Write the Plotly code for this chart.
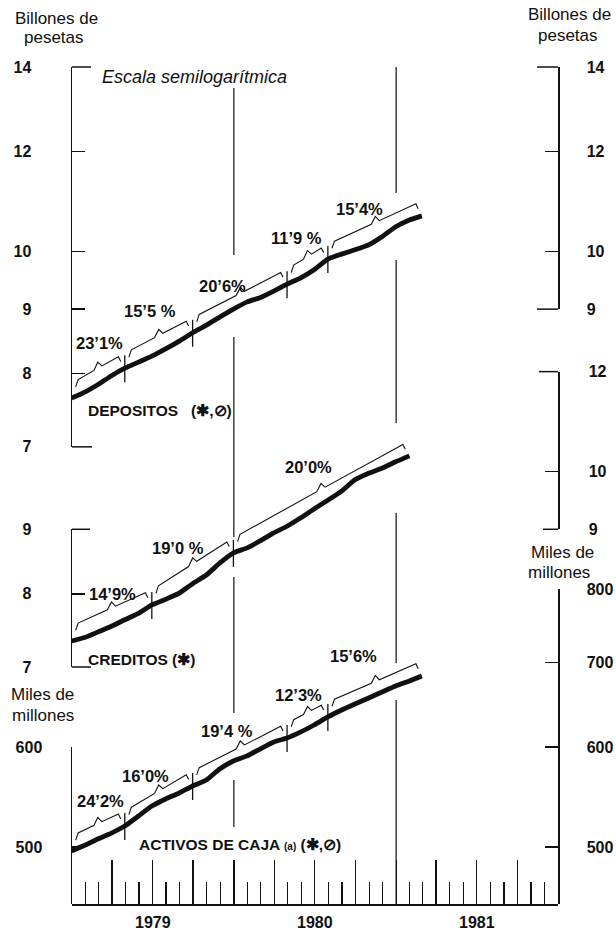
import math
import numpy as np
import pandas as pd
import plotly.graph_objects as go

# ---------------- data ----------------
try:
    month_ends = pd.date_range("1978-12-31", periods=27, freq="ME")
except ValueError:
    month_ends = pd.date_range("1978-12-31", periods=27, freq="M")
months = [d.strftime("%Y-%m-%d") for d in month_ends]

# Billones de pesetas
depositos = [7.65, 7.74, 7.84, 7.97, 8.08, 8.17, 8.26, 8.37, 8.49, 8.62, 8.74, 8.87, 9.00,
             9.12, 9.19, 9.30, 9.42, 9.53, 9.67, 9.86, 9.95, 10.03, 10.12, 10.27, 10.46, 10.59, 10.67]
creditos = [7.34, 7.39, 7.46, 7.54, 7.63, 7.72, 7.84, 7.92, 8.01, 8.15, 8.28, 8.46, 8.62,
            8.70, 8.81, 8.94, 9.05, 9.19, 9.34, 9.49, 9.65, 9.85, 9.97, 10.06, 10.18, 10.29]
# Miles de millones
activos = [496.4, 501.8, 507.4, 512.9, 519.5, 529.1, 538.8, 545.8, 551.8, 558.9, 565.0, 576.5, 585.0,
           590.4, 597.9, 605.6, 610.0, 616.8, 624.7, 633.9, 642.0, 649.1, 656.2, 663.4, 670.8, 676.9, 683.1]

# growth periods (month index of break points) and annualised rates
dep_breaks = [0, 4, 9, 16, 19, 26]
dep_rates = ["23’1%", "15’5 %", "20’6%", "11’9 %", "15’4%"]
cred_breaks = [0, 6, 12, 25]
cred_rates = ["14’9%", "19’0 %", "20’0%"]
act_breaks = [0, 4, 9, 16, 19, 26]
act_rates = ["24’2%", "16’0%", "19’4 %", "12’3%", "15’6%"]

year_labels = ["1979", "1980", "1981"]
year_centers = ["1979-07-02", "1980-07-02", "1981-07-02"]
year_lines = ["1980-01-01", "1981-01-01"]

dep_ticks_left = [7, 8, 9, 10, 12, 14]
dep_ticks_right = [9, 10, 12, 14]
cred_ticks_left = [7, 8, 9]
cred_ticks_right = [9, 10, 12]
act_ticks_left = [500, 600]
act_ticks_right = [500, 600, 700, 800]

# ---------------- layout constants ----------------
W, H = 616, 934
ML, MR, MT, MB = 72, 58, 67, 30
PLOT_H = H - MT - MB
PLOT_W = W - ML - MR
PX_PER_DEC = 548 * math.log(10)          # common semilog scale
DEC_SPAN = PLOT_H / PX_PER_DEC
INK = "#111111"
FONT = "Liberation Sans, Arial, sans-serif"
NB = "\u00a0"

def py(ypix):
    return (MT + PLOT_H - ypix) / PLOT_H

def px(xpix):
    return (xpix - ML) / PLOT_W

dep_r0 = math.log10(14) - DEC_SPAN
cred_r0 = math.log10(7) - py(667) * DEC_SPAN
act_r0 = math.log10(500) - py(847) * DEC_SPAN

def dom(r0, lo, hi):
    a = (math.log10(lo) - r0) / DEC_SPAN
    b = (math.log10(hi) - r0) / DEC_SPAN
    return [max(0.0, round(a, 5)), min(1.0, round(b, 5))]

idx = np.arange(len(months))
t_ns = pd.to_datetime(months).astype("int64").to_numpy().astype(float)

def mdate(m):
    return pd.Timestamp(int(np.interp(m, idx, t_ns)))

def logval(series, m):
    return float(np.interp(m, np.arange(len(series)), np.log10(series)))

def bracket(series, m0, m1, off=15, hook=6, notch=6, gap=0.3, hw=0.18, nw=0.3):
    L0, L1 = logval(series, m0), logval(series, m1)
    base = lambda m: L0 + (L1 - L0) * (m - m0) / (m1 - m0)
    a, b = m0 + gap, m1 - gap
    mid = (a + b) / 2
    pts = [(a, off - hook), (a + hw, off), (mid - nw, off), (mid, off + notch),
           (mid + nw, off), (b - hw, off), (b, off - hook)]
    xs = [mdate(m) for m, _ in pts]
    ys = [10 ** (base(m) + o / PX_PER_DEC) for m, o in pts]
    return xs, ys

fig = go.Figure()

panels = [
    (depositos, dep_breaks, dep_rates, "y",
     [(2.15, 40), (5.85, 46), (11.2, 30), (16.7, 42), (21.3, 39)]),
    (creditos, cred_breaks, cred_rates, "y2",
     [(3.1, 32), (7.9, 46), (17.6, 46)]),
    (activos, act_breaks, act_rates, "y3",
     [(2.2, 37), (5.5, 35), (11.5, 34), (16.8, 38), (20.9, 49)]),
]

annotations = []
for series, breaks, rates, yax, lab in panels:
    fig.add_trace(go.Scatter(x=months[:len(series)], y=series, yaxis=yax, mode="lines",
                             line=dict(color=INK, width=4.8, shape="spline", smoothing=0.5),
                             hoverinfo="skip", showlegend=False))
    bx, by = [], []
    for m0, m1 in zip(breaks[:-1], breaks[1:]):
        xs, ys = bracket(series, m0, m1)
        bx += xs + [None]
        by += ys + [None]
    fig.add_trace(go.Scatter(x=bx, y=by, yaxis=yax, mode="lines",
                             line=dict(color=INK, width=1.1), hoverinfo="skip", showlegend=False))
    tx, ty = [], []
    for m in breaks[1:-1]:
        L = logval(series, m)
        tx += [mdate(m), mdate(m), None]
        ty += [10 ** (L - 14 / PX_PER_DEC), 10 ** (L + 13 / PX_PER_DEC), None]
    fig.add_trace(go.Scatter(x=tx, y=ty, yaxis=yax, mode="lines",
                             line=dict(color=INK, width=1.3), hoverinfo="skip", showlegend=False))
    for (m, up), txt in zip(lab, rates):
        annotations.append(dict(x=mdate(m), y=logval(series, m), xref="x", yref=yax,
                                yshift=up, text=txt, showarrow=False,
                                xanchor="center", yanchor="middle",
                                font=dict(family=FONT, size=16.5, color=INK, weight="bold")))

def vis_axis(r0, lo, hi, tickvals, side, standoff):
    return dict(type="log", domain=dom(r0, lo, hi), range=[math.log10(lo), math.log10(hi)],
                anchor="x", side=side, showline=True, linecolor=INK, linewidth=1.5,
                ticks="inside", ticklen=13, tickwidth=1.5, tickcolor=INK,
                tickmode="array", tickvals=tickvals, ticktext=[str(v) for v in tickvals],
                tickfont=dict(family=FONT, size=16, color=INK, weight="bold"),
                ticklabelstandoff=standoff, showgrid=False, zeroline=False, fixedrange=True,
                automargin=False)

act_bottom = 10 ** act_r0
vis_specs = {
    "y4": (dep_r0, 7, 14, dep_ticks_left, "left", 36),
    "y5": (dep_r0, 9, 14, dep_ticks_right, "right", 24),
    "y6": (cred_r0, 7, 9, cred_ticks_left, "left", 36),
    "y7": (cred_r0, 9, 12, cred_ticks_right, "right", 26),
    "y8": (act_r0, act_bottom, 600, act_ticks_left, "left", 25),
    "y9": (act_r0, act_bottom, 800, act_ticks_right, "right", 24),
}
layout_axes = dict(
    yaxis=dict(type="log", range=[dep_r0, dep_r0 + DEC_SPAN], domain=[0, 1], visible=False,
               anchor="x", automargin=False),
    yaxis2=dict(type="log", range=[cred_r0, cred_r0 + DEC_SPAN], overlaying="y", visible=False,
                anchor="x", automargin=False),
    yaxis3=dict(type="log", range=[act_r0, act_r0 + DEC_SPAN], overlaying="y", visible=False,
                anchor="x", automargin=False),
)
for key, spec in vis_specs.items():
    layout_axes["yaxis" + key[1:]] = vis_axis(*spec)
    # invisible anchor trace so the axis gets its own subplot
    fig.add_trace(go.Scatter(x=[months[0]], y=[spec[3][-1]], yaxis=key, mode="markers",
                             marker=dict(opacity=0, size=1), hoverinfo="skip", showlegend=False))

shapes = []
# bracket-style caps at the ends of the partial axes
def cap(yref, yv, side, length):
    L = length / PLOT_W
    x0, x1 = (0, L) if side == "left" else (1 - L, 1)
    shapes.append(dict(type="line", xref="x domain", yref=yref + " domain", x0=x0, x1=x1,
                       y0=yv, y1=yv, line=dict(color=INK, width=1.5)))
cap("y4", 1, "left", 19); cap("y4", 0, "left", 20)
cap("y5", 1, "right", 21); cap("y5", 0, "right", 21)
cap("y6", 1, "left", 18); cap("y6", 0, "left", 19)
cap("y7", 1, "right", 19); cap("y7", 0, "right", 15)

# year separators (interrupted where lines / labels cross)
year_gaps = {
    "1980-01-01": [(88, 255), (337, 537), (577, 713), (780, 827), (860, 904)],
    "1981-01-01": [(67, 193), (260, 423), (513, 663), (700, 904)],
}
for xd in year_lines:
    for a, b in year_gaps[xd]:
        shapes.append(dict(type="line", xref="x", yref="paper", x0=xd, x1=xd,
                           y0=py(b), y1=py(a), line=dict(color=INK, width=1.2)))

for lab, xc in zip(year_labels, year_centers):
    annotations.append(dict(x=xc, y=py(933), xref="x", yref="paper", text=lab, showarrow=False,
                            xanchor="center", yanchor="bottom",
                            font=dict(family=FONT, size=16, color=INK, weight="bold")))

txt_font = dict(family=FONT, size=17, color=INK)
lab_font = dict(family=FONT, size=15.5, color=INK, weight="bold")

def free_text(text, xc, yc, font, xanchor="center"):
    annotations.append(dict(x=px(xc), y=py(yc), xref="paper", yref="paper", text=text,
                            showarrow=False, xanchor=xanchor, yanchor="middle", font=font))

free_text("Billones de", 56, 19, txt_font)
free_text("pesetas", 54, 37, txt_font)
free_text("Billones de", 569, 15, txt_font)
free_text("pesetas", 568, 35, txt_font)
free_text("Miles de", 42, 694, txt_font)
free_text("millones", 43, 715, txt_font)
free_text("Miles de", 562, 552, txt_font)
free_text("millones", 559, 572, txt_font)
free_text("<i>Escala semilogarítmica</i>", 100, 77, dict(family=FONT, size=18, color=INK), "left")
free_text("DEPOSITOS" + NB * 3 + "(✱,⊘)", 86, 411, lab_font, "left")
free_text("CREDITOS" + NB + "(✱)", 86, 659, lab_font, "left")
free_text("ACTIVOS DE CAJA <span style='font-size:10px'>(a)</span>" + NB + "(✱,⊘)", 137, 844,
          lab_font, "left")

fig.update_layout(
    width=W, height=H, margin=dict(l=ML, r=MR, t=MT, b=MB, autoexpand=False),
    paper_bgcolor="white", plot_bgcolor="rgba(0,0,0,0)", showlegend=False,
    font=dict(family=FONT, color=INK),
    xaxis=dict(type="date", range=["1979-01-01", "1982-01-01"], domain=[0, 1], anchor="y",
               showline=True, linecolor=INK, linewidth=1.5, automargin=False,
               ticks="inside", tick0="1979-01-01", dtick="M3", ticklen=44, tickwidth=1.3, tickcolor=INK,
               showticklabels=False, showgrid=False, zeroline=False, fixedrange=True,
               minor=dict(dtick="M1", tick0="1979-01-01", ticks="inside", ticklen=22,
                          tickwidth=1.2, tickcolor=INK, showgrid=False)),
    shapes=shapes, annotations=annotations,
    **layout_axes,
)

fig.write_html("out.html", config={"staticPlot": True},
               post_script="document.body.style.margin='0';document.body.style.overflow='hidden';")
